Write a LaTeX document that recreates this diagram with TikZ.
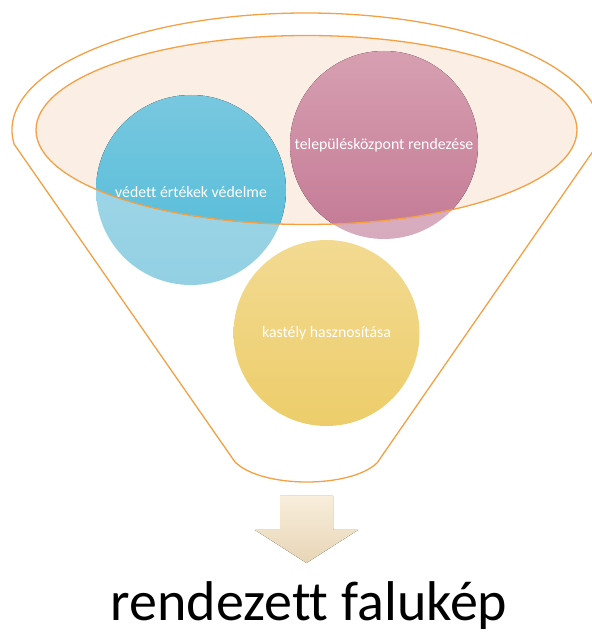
\documentclass[tikz,border=0pt]{standalone}
\usepackage{fontspec}
\setmainfont{Carlito}[Ligatures=NoCommon]
\definecolor{funnelorange}{HTML}{F4A045}
\definecolor{funnelpeach}{HTML}{FBEEE4}
\definecolor{bluetop}{HTML}{78C8DF}
\definecolor{bluebot}{HTML}{4FBAD8}
\definecolor{bluelighttop}{HTML}{A4D9E9}
\definecolor{bluelightbot}{HTML}{93D0E3}
\definecolor{pinktop}{HTML}{D79FB1}
\definecolor{pinkbot}{HTML}{C47A95}
\definecolor{pinklighttop}{HTML}{DDB6C6}
\definecolor{pinklightbot}{HTML}{D7ABBD}
\definecolor{yellowtop}{HTML}{F2DA92}
\definecolor{yellowbot}{HTML}{EDCD6A}
\definecolor{arrowtop}{HTML}{F8EEDC}
\definecolor{arrowbot}{HTML}{E8D5B6}
\begin{document}
\begin{tikzpicture}[x=1pt,y=1pt,
    funnel line/.style={draw=funnelorange,line width=1.3pt},
    ball/.style={circle,minimum size=#1,inner sep=0pt},
    ball text/.style={text=white,font=\fontsize{15.8}{18}\selectfont}]
    \useasboundingbox (0,0) rectangle (592,635);

    % funnel body
    \draw[funnel line] (306,505) ++(187:294pt and 117pt)
        arc[start angle=187,end angle=-7,x radius=294pt,y radius=117pt]
        -- (377,172) .. controls (350,146.5) and (262,146.5) .. (235,173) -- cycle;
    \fill[funnelpeach] (306.5,505) ellipse[x radius=270.5pt,y radius=94.5pt];

    % circles
    \node[ball=190pt,top color=bluelighttop,bottom color=bluelightbot] (vedett) at (191,445) {};
    \node[ball=188pt,top color=pinklighttop,bottom color=pinklightbot] (kozpont) at (384,490) {};
    \node[ball=186pt,top color=yellowtop,bottom color=yellowbot] (kastely) at (326.5,302) {};

    \begin{scope}
        \clip (306.5,505) ellipse[x radius=270.5pt,y radius=94.5pt];
        \fill[top color=bluetop,bottom color=bluebot] (vedett.center) circle[radius=95pt];
        \fill[top color=pinktop,bottom color=pinkbot] (kozpont.center) circle[radius=94pt];
    \end{scope}
    \draw[funnel line] (306.5,505) ellipse[x radius=270.5pt,y radius=94.5pt];

    \node[ball text] at ([yshift=-2pt]vedett.center) {védett értékek védelme};
    \node[ball text] at (kozpont.center) {településközpont rendezése};
    \node[ball text] at (kastely.center) {kastély hasznosítása};

    % arrow down to the result
    \coordinate (nyil) at (306.5,139);
    \fill[top color=arrowtop,bottom color=arrowbot]
        ([xshift=-26.5pt]nyil) -- ([xshift=26.5pt]nyil) -- ([xshift=26.5pt,yshift=-34pt]nyil)
        -- ([xshift=51.5pt,yshift=-34pt]nyil) -- ([yshift=-67pt]nyil)
        -- ([xshift=-51.5pt,yshift=-34pt]nyil) -- ([xshift=-26.5pt,yshift=-34pt]nyil) -- cycle;

    \node[anchor=base,font=\fontsize{56}{62}\selectfont] (falukep) at (309,14) {rendezett falukép};
\end{tikzpicture}
\end{document}
